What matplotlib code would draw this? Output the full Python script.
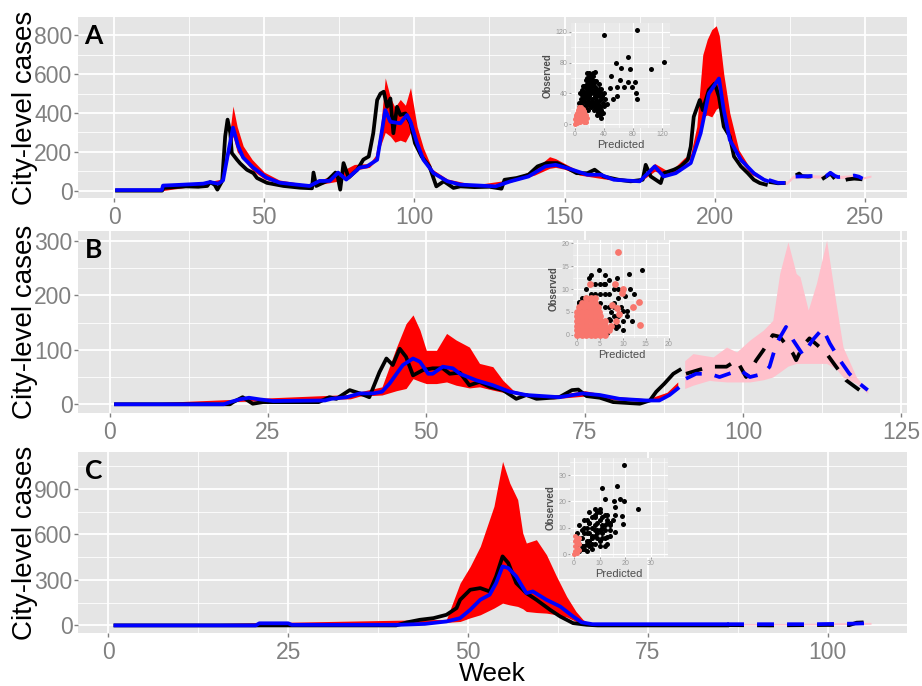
import numpy as np
import matplotlib
matplotlib.use('Agg')
import matplotlib.pyplot as plt
from matplotlib.ticker import MultipleLocator

plt.rcParams['font.family'] = ['Liberation Sans', 'DejaVu Sans']

# ---------------- panel A ----------------
a_obs_wk = [1, 16, 16.5, 20, 24, 28, 31, 32, 33.5, 34.4, 36, 37, 37.8, 38.7, 39.2, 40.9, 42, 44.2, 46.4, 47.6,
            50.9, 56.4, 62, 65.9, 66.4, 67.3, 70.9, 73.7, 74.3, 75.3, 76.4, 78.1, 81, 83, 84.8, 86.3, 87.6, 88.7,
            89.8, 90.9, 92, 93, 94.2, 95.3, 97, 98.7, 100.2, 102.4, 105, 107.3, 109.8, 113, 115.3, 120, 125, 129,
            130, 134, 138, 141, 144, 147.6, 151, 154, 157.6, 160, 163, 168, 172, 176, 177, 178.7, 182, 183, 186.4,
            188.7, 191, 192, 193, 195, 196, 198, 200, 201.4, 203, 205, 206.4, 208.7, 211, 213, 215, 217]
a_obs = [0, 0, 14, 18, 22, 20, 24, 44, 30, 5, 50, 280, 366, 297, 194, 160, 140, 108, 90, 65,
         40, 24, 15, 12, 93, 24, 50, 93, 85, 5, 142, 67, 108, 160, 176, 296, 467, 500,
         510, 432, 475, 296, 432, 390, 398, 347, 244, 176, 125, 22, 48, 14, 22, 18, 20, 10,
         56, 65, 82, 125, 142, 142, 116, 90, 90, 108, 73, 56, 48, 56, 133, 73, 39, 90, 108,
         125, 159, 227, 381, 467, 415, 518, 552, 484, 330, 279, 176, 125, 90, 56, 39, 31]
a_pred_wk = [1, 15.9, 16.3, 22, 29.7, 31.9, 34.7, 36.3, 38, 39.6, 41.3, 43, 46.3, 50.7, 55.1, 59.6, 65.1, 68.4,
             71.8, 74.6, 77.3, 81.8, 84.2, 87.6, 88.7, 90.3, 92, 95.3, 97.5, 98.7, 100.9, 103, 106.4, 111, 115.3,
             127, 132, 138, 143.6, 147, 151, 157.6, 162, 166.4, 175, 180, 183, 187, 192, 195.3, 198, 201.4, 203,
             205, 208.7, 213, 216.4, 217.5]
a_pred = [3, 3, 26, 30, 36, 44, 36, 53, 196, 325, 230, 170, 119, 67, 41, 33, 24, 50,
          50, 93, 57, 119, 125, 159, 262, 415, 355, 347, 390, 355, 244, 159, 90, 48, 31,
          22, 48, 73, 125, 133, 116, 82, 82, 56, 48, 125, 73, 90, 142, 296, 500, 578, 415,
          262, 159, 90, 56, 50]
a_band_wk = [1, 16, 30, 36, 38, 39.6, 41, 43, 46, 50, 55, 65, 75, 80, 85, 87, 88.7, 90.3, 92, 93.5, 95.3, 97,
             98.7, 100.9, 103, 106, 111, 120, 132, 140, 145, 147, 150, 155, 165, 175, 180, 185, 190, 192, 194,
             196, 197.5, 199, 200.5, 201.5, 203, 205, 208, 212, 217]
a_band_lo = [0, 0, 30, 45, 170, 280, 200, 160, 105, 60, 38, 22, 50, 105, 120, 150, 230, 300, 280, 250, 260, 250,
             300, 220, 150, 85, 44, 20, 44, 80, 115, 120, 110, 80, 56, 44, 100, 80, 135, 170, 230,
             380, 390, 380, 420, 430, 380, 250, 160, 85, 45]
a_band_hi = [4, 8, 42, 60, 230, 436, 330, 230, 160, 95, 55, 30, 95, 135, 140, 180, 320, 581, 480, 430, 470, 440,
             531, 330, 220, 110, 60, 30, 56, 110, 175, 165, 140, 100, 70, 55, 140, 95, 170, 190, 330,
             700, 780, 830, 850, 800, 600, 400, 210, 110, 60]
a_fc_obs_wk = [218, 221, 224, 225.9, 228.1, 229, 231, 233.1, 234.8, 237, 238.5, 239.5, 240.9, 244.2, 246.4, 248, 249.2]
a_fc_obs = [45, 38, 40, 70, 88, 75, 72, 74, 50, 72, 88, 70, 42, 58, 62, 60, 58]
a_fc_pred_wk = [218, 221, 224, 225.9, 230, 233, 235, 237, 238.5, 240, 241, 244.2, 246.4, 248, 249.2]
a_fc_pred = [55, 40, 40, 72, 74, 76, 72, 74, 92, 76, 70, 72, 78, 72, 62]
a_fc_band_wk = [218, 224, 226, 232, 236, 238.5, 241, 244, 246.5, 249, 252]
a_fc_band_lo = [40, 32, 62, 66, 64, 80, 62, 64, 68, 58, 70]
a_fc_band_hi = [62, 48, 80, 82, 80, 98, 78, 80, 86, 70, 80]

# inset A (predicted vs observed)
ia_blk_x = [40, 86, 56, 73, 123, 105, 63, 76, 49, 62, 73, 83, 48, 58, 67, 79, 84, 85, 53, 58, 16, 28,
            4, 6, 8, 10, 12, 14, 16, 18, 20, 22, 24, 26, 28, 30, 32, 34, 36, 38,
            6, 8, 10, 12, 14, 16, 18, 20, 22, 24, 26, 28, 30, 32, 34, 36, 38, 40,
            8, 10, 12, 14, 16, 18, 20, 22, 24, 26, 28, 30, 32, 34, 36,
            10, 14, 18, 22, 26, 30, 20, 24, 16, 12, 28, 19, 25, 40, 42, 44, 36, 33, 15, 11, 7,
            5, 7, 9, 11, 13, 15, 17, 19, 21, 23, 25, 27, 29, 31, 33, 35, 9, 13, 17, 21, 25, 29, 33, 37,
            15, 19, 23, 27, 31, 35]
ia_blk_y = [116, 122, 80, 87, 81, 72, 73, 72, 63, 58, 55, 55, 47, 48, 48, 48, 41, 33, 33, 36, 66, 68,
            8, 14, 20, 25, 30, 34, 38, 42, 46, 50, 44, 40, 36, 30, 26, 22, 18, 14,
            28, 33, 38, 42, 48, 52, 56, 60, 64, 58, 54, 48, 44, 40, 36, 32, 28, 24,
            10, 16, 20, 24, 28, 32, 36, 40, 32, 28, 24, 20, 16, 12, 8,
            6, 12, 18, 22, 18, 12, 28, 24, 20, 10, 56, 66, 67, 40, 32, 26, 46, 52, 58, 50, 40,
            22, 26, 30, 34, 38, 42, 46, 50, 54, 58, 52, 46, 40, 36, 30, 24, 44, 50, 60, 62, 62, 56, 46, 36,
            24, 26, 30, 34, 38, 42]
ia_sal_x = [0, 1, 2, 3, 4, 5, 6, 7, 8, 9, 10, 11, 12, 13, 14, 15, 2, 4, 6, 8, 10, 12, 3, 5, 9, 11, 13, 15, 16, 7, 9, 1,
            0, 3, 6, 12, 14, 5, 8, 2, 4, 6, 10]
ia_sal_y = [0, 3, 6, 9, 12, 15, 18, 20, 22, 19, 16, 13, 10, 7, 4, 2, 1, 4, 7, 10, 6, 3, 15, 19, 14, 20, 17, 12, 8, 2, 9, 10,
            6, 1, 12, 16, 9, 3, 16, 12, 18, 22, 11]

# ---------------- panel B ----------------
b_obs_wk = [1, 19, 19.5, 21, 22.6, 24.2, 33, 34.7, 35.8, 37.9, 39.5, 41, 42.6, 43.7, 44.7, 45.8, 46.8, 47.9,
            49.5, 51, 52.6, 53.7, 55.3, 56.8, 58.4, 60, 62.1, 64.2, 65.8, 67.4, 71, 73, 74, 75.3, 77.4, 79.5,
            83.7, 85.3, 86.3, 87.6, 89, 90]
b_obs = [0, 0, 4, 13, 1, 4, 4, 13, 10, 26, 20, 13, 59, 84, 72, 102, 87, 53,
         63, 66, 66, 56, 58, 35, 41, 32, 26, 10, 17, 10, 13, 26, 27, 15, 12, 4,
         1, 7, 23, 38, 56, 63]
b_pred_wk = [1, 18, 19, 20.5, 22, 23.7, 25.8, 34, 35, 37.4, 39.5, 41.6, 43, 44.2, 45.3, 46.3, 47.9, 49, 50.3,
             51, 52.6, 54.2, 55.3, 57.9, 60.5, 63.2, 65.8, 71, 74.7, 77.4, 80.5, 84.7, 86.8, 88.4, 89.7]
b_pred = [0, 0, 4, 9, 12, 9, 6, 7, 10, 13, 20, 20, 23, 38, 56, 72, 84, 78, 56,
          56, 69, 66, 56, 44, 35, 23, 17, 13, 20, 17, 10, 7, 7, 17, 29]
b_band_wk = [1, 38, 39.5, 43, 45.3, 46.8, 47.9, 49, 50, 51.6, 53.2, 54.7, 56.8, 58.4, 60.5, 62.1, 63.7, 65.8,
             70, 75, 80, 85, 88, 89.7]
b_band_lo = [0, 10, 15, 17, 25, 29, 47, 42, 38, 38, 41, 35, 30, 32, 26, 22, 20, 14, 10, 15, 8, 5, 14, 27]
b_band_hi = [0, 18, 23, 32, 105, 148, 164, 136, 99, 99, 130, 118, 105, 75, 69, 44, 26, 20, 16, 25, 14, 10, 22, 41]
b_fc_obs_wk = [91, 94.7, 97.4, 99, 100.5, 102.1, 103.2, 104.7, 105.8, 107.1, 107.9, 108.4, 109.5, 110.5, 112.1,
               113.2, 114.7, 116.3, 118.4, 119.2]
b_fc_obs = [56, 69, 69, 81, 50, 81, 99, 127, 124, 105, 93, 81, 108, 121, 105, 93, 69, 44, 26, 17]
b_fc_pred_wk = [91, 92.6, 94.7, 96.3, 99.5, 101.1, 103.2, 104.2, 105.3, 106.8, 107.9, 109.5, 111, 112.6, 113.7,
                115.3, 116.8, 118.4, 119.7]
b_fc_pred = [47, 56, 56, 50, 63, 50, 56, 69, 112, 142, 118, 90, 118, 139, 112, 81, 56, 38, 26]
b_fc_band_wk = [90.8, 92.1, 94.7, 95.3, 97.4, 99, 101.1, 103.2, 104.7, 105.8, 107.1, 108.4, 109, 110.3, 111.6,
                113.2, 114.7, 115.8, 117.9, 119.7]
b_fc_band_lo = [29, 35, 44, 43, 41, 41, 41, 45, 50, 59, 70, 75, 75, 75, 75, 75, 65, 50, 38, 20]
b_fc_band_hi = [80, 93, 88, 87, 105, 96, 118, 136, 154, 240, 298, 240, 234, 173, 222, 301, 185, 105, 50, 26]

# inset B
ib_blk_x = [14.1, 11.4, 4.7, 8.7, 2.5, 5.8, 11.5, 8.5, 7.2, 10.8, 10, 3, 4, 5, 6, 2, 3, 4, 5, 6, 7, 8, 9,
            1, 2, 3, 4, 5, 1, 2, 6, 7, 8, 9, 9, 10, 8, 7, 6, 1, 0.5, 10.5, 12, 11, 12.5, 7, 6, 3, 9, 8,
            0.5, 1.5, 2.5, 3.5, 7.5, 8, 9.5, 10, 7, 6.5]
ib_blk_y = [14.2, 13.2, 14.2, 12.3, 12.3, 11.2, 10.1, 1.4, 3.2, 5.1, 5.1, 11, 11, 11, 11, 10, 9, 9, 9, 9, 9, 10, 10,
            8, 8, 7, 7, 7, 6, 6, 6, 6, 6, 4, 2, 1, 2, 1, 2, 4, 7, 8.5, 3, 4, 9, 12, 13, 13, 8, 4,
            7.2, 7.2, 7.2, 7.2, 5, 7, 6, 3, 3.5, 0.5]
ib_sal_x = [8.9, 13.7, 12.3, 13.5, 10, 8.3, 8.7, 7.6, 2.9, 9.7, 8.5, 9.2,
            0, 1, 2, 3, 4, 5, 6,
            0, 1, 2, 3, 4, 5, 6, 7,
            0, 1, 2, 3, 4, 5, 6, 7.5,
            0, 1, 2, 3, 4, 5, 6,
            0, 1, 2, 3, 4, 5,
            0, 1, 2, 3, 4, 4.8,
            0.5, 1.5, 2.5, 3.5, 4.5,
            1, 2, 3, 4,
            2, 3, 4]
ib_sal_y = [18, 2.2, 6.1, 7.2, 10, 11.1, 5.8, 6.5, 11.2, 9.2, 3, 4.5,
            0, 0, 0, 0, 0, 0, 0,
            1, 1, 1, 1, 1, 1, 1, 1,
            2, 2, 2, 2, 2, 2, 2, 2,
            3, 3, 3, 3, 3, 3, 3,
            4, 4, 4, 4, 4, 4,
            5, 5, 5, 5, 5, 5,
            6, 6, 6, 6, 6,
            7, 7, 7, 7,
            8, 8, 8]

# ---------------- panel C ----------------
c_obs_wk = [1, 40, 41.5, 43.3, 45.2, 47, 48.4, 48.9, 50.3, 51.7, 53, 53.9, 54.8, 55.6, 56.7, 58.1, 59.5, 61.4,
            62.8, 64.6, 66.5, 68, 86]
c_obs = [0, 0, 20, 37, 48, 70, 114, 169, 235, 246, 224, 323, 455, 411, 279, 213, 169, 103, 59, 15, 4, 0, 0]
c_pred_wk = [1, 20.5, 21, 25, 25.5, 40.5, 44, 47, 48.9, 50.3, 51.7, 53, 53.9, 54.8, 55.6, 56.7, 58.1, 59, 60.9,
             62.8, 64.6, 65.8, 67.3, 86]
c_pred = [0, 0, 14, 14, 4, 4, 10, 26, 48, 103, 169, 202, 279, 389, 378, 323, 213, 224, 169, 125, 59, 20, 8, 8]
c_band_wk = [1, 47, 48.9, 50.3, 51.7, 53.6, 54.8, 55.8, 56.9, 57.6, 58.1, 59.5, 60.9, 62.3, 63.7, 65, 66, 67, 86]
c_band_lo = [0, 20, 26, 50, 70, 114, 147, 135, 125, 110, 92, 85, 81, 70, 55, 26, 10, 5, 5]
c_band_hi = [0, 40, 279, 389, 521, 785, 1081, 938, 829, 609, 543, 565, 466, 323, 191, 92, 37, 12, 12]
c_fc_obs_wk = [86, 92, 100, 103, 104, 105, 105.5]
c_fc_obs = [2, 0, 3, 2, 18, 20, 15]
c_fc_pred_wk = [86, 90, 94, 98, 101, 104, 105.5]
c_fc_pred = [8, 8, 8, 8, 10, 12, 14]
c_fc_band_wk = [86, 95, 100, 104, 106]
c_fc_band_lo = [3, 3, 4, 6, 8]
c_fc_band_hi = [13, 13, 16, 20, 20]

# inset C
ic_blk_x = [19.4, 16.6, 10.7, 12, 15.6, 17.9, 19.4, 25, 18.5, 19.1, 15.9, 12.9, 15.9,
            2, 3, 4, 5, 6, 7, 8, 9, 10, 11, 12, 13, 2, 3, 4, 5, 6, 7, 8, 9, 10, 4, 6, 8, 10, 12, 14,
            3, 5, 7, 9, 11, 13, 6, 8, 10, 12, 14, 11, 13, 1, 2, 4, 6, 8, 15, 16, 10, 7, 5,
            3, 5, 7, 9, 11, 13, 4, 6, 8, 10, 12, 14, 2, 5, 8, 11, 14, 7, 9, 12]
ic_blk_y = [34, 26, 25, 21.1, 20.2, 21.1, 20.2, 17.1, 14.4, 11.6, 8.5, 6.6, 18,
            1, 2, 3, 4, 5, 6, 7, 8, 9, 10, 11, 12, 4, 6, 8, 10, 12, 14, 15, 16, 17, 2, 3, 4, 5, 6, 7,
            9, 13, 10, 12, 14, 15, 8, 11, 13, 9, 11, 6, 4, 8, 11, 13, 16, 17, 13, 15, 3, 2, 1,
            3, 5, 7, 9, 11, 13, 10, 12, 14, 16, 15, 12, 6, 8, 9, 8, 9, 4, 6, 3]
ic_sal_x = [0, 0.5, 1, 0.5, 1, 1.5, 1, 0.5, 1.8, 2, 1.5, 0.2, 0.8, 1.2, 1.8]
ic_sal_y = [0, 1, 2, 3, 4, 5, 6, 7, 6, 4, 2, 5, 5.5, 0.5, 1.5]

GREY = '#808080'
LW = 2.7
DASH = (4.5, 3.5)

fig = plt.figure(figsize=(9.22, 6.86), dpi=100)


def style_panel(ax, xlim, ylim, xmaj, ymaj, letter):
    ax.set_facecolor('#E5E5E5')
    ax.set_xlim(*xlim)
    ax.set_ylim(*ylim)
    ax.xaxis.set_major_locator(MultipleLocator(xmaj))
    ax.xaxis.set_minor_locator(MultipleLocator(xmaj / 2))
    ax.yaxis.set_major_locator(MultipleLocator(ymaj))
    ax.yaxis.set_minor_locator(MultipleLocator(ymaj / 2))
    ax.grid(which='major', color='white', lw=1.3)
    ax.grid(which='minor', color='white', lw=0.6)
    ax.set_axisbelow(True)
    for s in ax.spines.values():
        s.set_visible(False)
    ax.tick_params(which='major', length=3, width=1, color=GREY, labelcolor=GREY, labelsize=16.5)
    ax.tick_params(axis='x', pad=2.5)
    ax.tick_params(axis='y', pad=1)
    ax.tick_params(which='minor', length=0)
    ax.text(0.008, 0.96, letter, transform=ax.transAxes, ha='left', va='top',
            fontsize=19, fontweight='bold', family=['Lato', 'DejaVu Sans'])


def add_inset(rect, lim, step, bx, by, sx, sy, ssize):
    ins = fig.add_axes(rect)
    ins.set_facecolor('#E9E9E9')
    ins.scatter(bx, by, s=13, c='black', lw=0, zorder=3)
    ins.scatter(sx, sy, s=ssize, c='#F8766D', lw=0, zorder=4)
    ins.set_xlim(*lim[0])
    ins.set_ylim(*lim[1])
    ins.xaxis.set_major_locator(MultipleLocator(step))
    ins.yaxis.set_major_locator(MultipleLocator(step))
    ins.xaxis.set_minor_locator(MultipleLocator(step / 2))
    ins.yaxis.set_minor_locator(MultipleLocator(step / 2))
    ins.grid(which='major', color='white', lw=0.8)
    ins.grid(which='minor', color='white', lw=0.4)
    ins.set_axisbelow(True)
    for s in ins.spines.values():
        s.set_visible(False)
    ins.tick_params(length=1.5, width=0.5, color=GREY, labelcolor='#9A9A9A', labelsize=5, pad=1)
    ins.tick_params(which='minor', length=0)
    ins.set_xlabel('Predicted', fontsize=8, color='#4D4D4D', labelpad=1)
    ins.set_ylabel('Observed', fontsize=7, color='#4D4D4D', fontweight='bold', labelpad=2)
    return ins


def draw(ax, band, obs, pred, fc_band, fc_obs, fc_pred):
    ax.fill_between(band[0], band[1], band[2], color='red', lw=0, zorder=2)
    ax.fill_between(fc_band[0], fc_band[1], fc_band[2], color='#FFC0CB', lw=0, zorder=2)
    ax.plot(obs[0], obs[1], color='black', lw=LW, zorder=3)
    ax.plot(pred[0], pred[1], color='blue', lw=LW, zorder=4)
    ax.plot(fc_obs[0], fc_obs[1], color='black', lw=LW, dashes=DASH, zorder=3)
    ax.plot(fc_pred[0], fc_pred[1], color='blue', lw=LW, dashes=DASH, zorder=4)


L, W = 78 / 922, 829 / 922
ax_a = fig.add_axes([L, 1 - 198 / 686, W, 181 / 686])
ax_b = fig.add_axes([L, 1 - 413 / 686, W, 182 / 686])
ax_c = fig.add_axes([L, 1 - 633 / 686, W, 181 / 686])

draw(ax_a, (a_band_wk, a_band_lo, a_band_hi), (a_obs_wk, a_obs), (a_pred_wk, a_pred),
     (a_fc_band_wk, a_fc_band_lo, a_fc_band_hi), (a_fc_obs_wk, a_fc_obs), (a_fc_pred_wk, a_fc_pred))
style_panel(ax_a, (-12, 264), (-38, 895), 50, 200, 'A')

draw(ax_b, (b_band_wk, b_band_lo, b_band_hi), (b_obs_wk, b_obs), (b_pred_wk, b_pred),
     (b_fc_band_wk, b_fc_band_lo, b_fc_band_hi), (b_fc_obs_wk, b_fc_obs), (b_fc_pred_wk, b_fc_pred))
style_panel(ax_b, (-5, 125.9), (-16, 318), 25, 100, 'B')

draw(ax_c, (c_band_wk, c_band_lo, c_band_hi), (c_obs_wk, c_obs), (c_pred_wk, c_pred),
     (c_fc_band_wk, c_fc_band_lo, c_fc_band_hi), (c_fc_obs_wk, c_fc_obs), (c_fc_pred_wk, c_fc_pred))
style_panel(ax_c, (-4.2, 111), (-50, 1143), 25, 300, 'C')

for ax in (ax_a, ax_b, ax_c):
    pos = ax.get_position()
    fig.text(25 / 922, pos.y0 + pos.height / 2, 'City-level cases', rotation=90,
             ha='center', va='center', fontsize=20)
fig.text(492 / 922, 1 - 681 / 686, 'Week', ha='center', va='baseline', fontsize=19)

add_inset([571 / 922, 1 - 128 / 686, 99 / 922, 105 / 686], ((-5.5, 131), (-5.2, 131.7)), 40,
          ia_blk_x, ia_blk_y, ia_sal_x, ia_sal_y, 13)
add_inset([573 / 922, 1 - 338 / 686, 97 / 922, 98 / 686], ((-0.9, 20.3), (-0.7, 20.7)), 5,
          ib_blk_x, ib_blk_y, ib_sal_x, ib_sal_y, 24)
add_inset([570 / 922, 1 - 557 / 686, 98 / 922, 99 / 686], ((-1.6, 36.6), (-1.1, 36.5)), 10,
          ic_blk_x, ic_blk_y, ic_sal_x, ic_sal_y, 13)

fig.savefig('out.png', dpi=100, facecolor='white')
